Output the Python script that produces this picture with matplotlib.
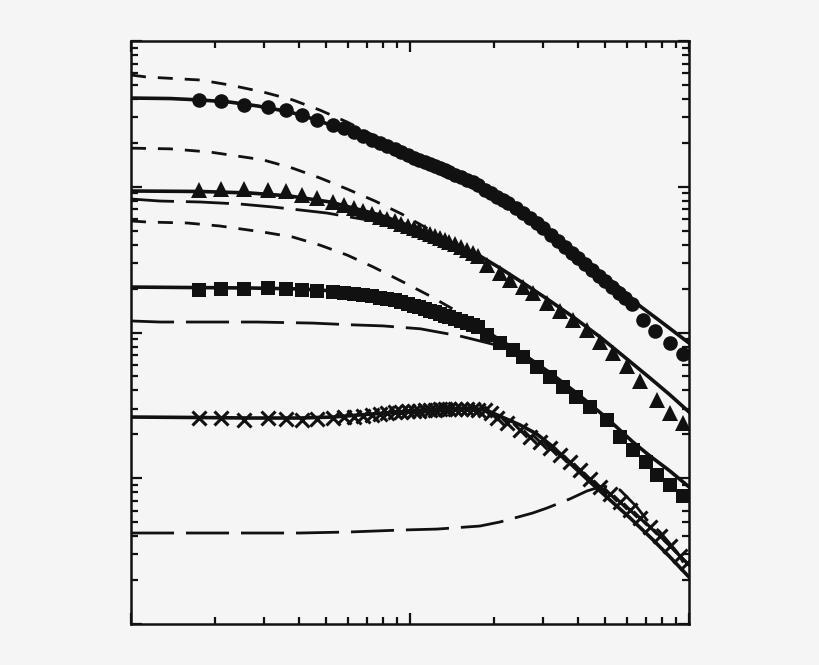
import matplotlib
matplotlib.use("Agg")
from matplotlib import pyplot as plt

bg = "#f5f5f5"

# marker positions (shared low-x part)
x_pts = [1.75, 2.1, 2.55, 3.1, 3.6, 4.1, 4.65, 5.3, 5.8, 6.3, 6.8, 7.3, 7.8, 8.3,
         8.8, 9.3, 9.8, 10.3, 10.8, 11.3, 11.8, 12.3, 12.8, 13.3, 13.8, 14.5,
         15.2, 16, 16.8, 17.6]

# circles
circ_x = x_pts + [18.5, 19.5, 20.5, 21.5, 22.5, 24, 25.5, 27, 28.5, 30, 32, 34,
                  36, 38, 40, 42.5, 45, 47.5, 50, 53, 56, 59, 62.5, 68.5, 75.5,
                  85.5, 95]
circ_y = [39.4, 38.8, 36.5, 35.2, 33.6, 31.1, 28.7, 26.5, 25.3, 23.7, 22.3, 20.9,
          20.0, 19.0, 18.2, 17.3, 16.5, 15.8, 15.3, 14.8, 14.3, 13.9, 13.4, 13.0,
          12.6, 12.0, 11.7, 11.1, 10.8, 10.3,
          9.51, 9.06, 8.51, 8.11, 7.74, 7.15, 6.60, 6.11, 5.64, 5.21, 4.67, 4.24,
          3.86, 3.51, 3.25, 2.95, 2.69, 2.44, 2.26, 2.05, 1.87, 1.72, 1.57, 1.22,
          1.02, 0.847, 0.712]

# triangles
tri_x = x_pts + [18.9, 21.0, 22.8, 25.4, 27.6, 31.0, 34.5, 38.4, 43.1, 48.0, 53.4,
                 59.9, 66.7, 76.8, 85.5, 95.1]
tri_y = [9.50, 9.65, 9.65, 9.50, 9.35, 8.78, 8.37, 7.86, 7.50, 7.15, 6.82, 6.50,
         6.20, 6.01, 5.82, 5.55, 5.38, 5.21, 5.05, 4.89, 4.74, 4.60, 4.45, 4.31,
         4.18, 4.05, 3.86, 3.68, 3.51, 3.35,
         2.91, 2.56, 2.29, 2.05, 1.87, 1.59, 1.40, 1.22, 1.04, 0.861, 0.724,
         0.589, 0.465, 0.344, 0.280, 0.239]

# squares
sq_x = x_pts + [18.9, 21.0, 23.4, 25.4, 28.5, 31.8, 35.4, 39.5, 44.2, 50.7, 56.6,
                63.0, 70, 76.8, 85.5, 95.1]
sq_y = [1.96, 1.99, 1.99, 2.02, 1.99, 1.96, 1.93, 1.90, 1.87, 1.84, 1.81, 1.78,
        1.72, 1.70, 1.67, 1.62, 1.57, 1.52, 1.50, 1.45, 1.40, 1.38, 1.34, 1.30,
        1.28, 1.24, 1.20, 1.16, 1.13, 1.09,
        0.962, 0.847, 0.759, 0.679, 0.580, 0.495, 0.423, 0.361, 0.308, 0.251,
        0.192, 0.156, 0.129, 0.105, 0.0899, 0.0756]

# crosses
cr_x = x_pts + [18.5, 19.5, 20.5, 22.3, 24.8, 26.9, 29.2, 31.8, 34.5, 37.4, 40.6,
                44.2, 48.0, 52.1, 56.6, 61.5, 66.7, 72.5, 78.7, 85.5, 92.9, 98.4]
cr_y = [0.259, 0.259, 0.251, 0.259, 0.255, 0.251, 0.255, 0.259, 0.263, 0.263,
        0.267, 0.272, 0.276, 0.280, 0.285, 0.285, 0.289, 0.289, 0.289, 0.294,
        0.294, 0.294, 0.299, 0.299, 0.299, 0.299, 0.299, 0.299, 0.299, 0.294,
        0.294, 0.280, 0.259, 0.239, 0.214, 0.192, 0.177, 0.161, 0.144, 0.129,
        0.114, 0.0989, 0.0871, 0.0780, 0.0687, 0.0606, 0.0534, 0.0463, 0.0402,
        0.0343, 0.0293, 0.0262]

# fit curves (solid)
fit1_x = [1, 1.38, 1.77, 2.26, 2.85, 3.71, 4.75, 6.09, 7.8, 10, 12.8, 17.4, 21.0,
          24.8, 29.2, 34.5, 40.6, 48.0, 56.6, 66.7, 78.7, 100]
fit1_y = [40.6, 40.3, 39.4, 38.1, 35.8, 32.6, 28.3, 23.4, 20.0, 16.0, 13.4, 10.3,
          8.37, 6.93, 5.55, 4.38, 3.40, 2.60, 2.02, 1.52, 1.20, 0.847]
fit2_x = [1, 1.77, 2.67, 3.71, 5.17, 7.8, 10, 12.8, 17.8, 21.0, 25.4, 31.0, 38.4,
          48.0, 59.9, 72.5, 85.5, 100]
fit2_y = [9.35, 9.28, 9.06, 8.64, 7.86, 6.40, 5.38, 4.45, 3.35, 2.77, 2.19, 1.70,
          1.28, 0.932, 0.658, 0.487, 0.373, 0.285]
fit3_x = [1, 2.67, 4.03, 5.3, 7.8, 10.9, 13.9, 17.8, 21.0, 25.4, 31.8, 39.5, 50.7,
          63.0, 72.5, 85.5, 100]
fit3_y = [2.05, 2.02, 1.99, 1.93, 1.72, 1.50, 1.30, 1.09, 0.889, 0.712, 0.528,
          0.385, 0.259, 0.177, 0.142, 0.112, 0.0872]
fit4_x = [1, 1.77, 2.67, 4.03, 5.3, 6.62, 9.21, 12.8, 16.4, 18.6, 21.0, 24.8, 28.5,
          32.6, 37.4, 44.2, 52.1, 61.5, 74.4, 85.5, 100]
fit4_y = [0.263, 0.261, 0.259, 0.259, 0.263, 0.272, 0.285, 0.299, 0.303, 0.294,
          0.267, 0.232, 0.201, 0.164, 0.127, 0.0942, 0.0709, 0.0534, 0.0377,
          0.0288, 0.0210]

# short dashed curves
sd1_x = [1, 1.14, 1.77, 2.26, 2.97, 3.80, 4.75, 5.95, 7.48, 9.21, 10]
sd1_y = [58.4, 56.6, 54.0, 49.9, 44.7, 39.4, 33.6, 27.8, 22.3, 17.9, 16.0]
sd2_x = [1, 1.38, 1.92, 2.97, 3.80, 4.75, 5.95, 7.48, 9.34, 11.8, 13.9]
sd2_y = [18.4, 18.2, 17.3, 15.3, 13.4, 11.5, 9.65, 7.99, 6.50, 5.05, 4.18]
sd3_x = [1, 1.14, 1.59, 2.08, 2.97, 3.80, 4.75, 5.95, 7.37, 9.45, 11.8, 14.7, 17.8]
sd3_y = [5.82, 5.73, 5.64, 5.38, 4.89, 4.52, 3.98, 3.40, 2.82, 2.22, 1.78, 1.40,
         1.11]

# long dashed curves
ld2_x = [1, 1.27, 1.77, 2.46, 3.23, 4.03, 5.04, 6.09, 7.8, 10, 12.8]
ld2_y = [8.24, 7.98, 7.86, 7.61, 7.26, 6.93, 6.60, 6.20, 5.73, 5.13, 4.31]
ld3_x = [1, 1.27, 1.81, 2.83, 4.49, 6.09, 7.99, 10.9, 12.5, 15.1, 17.8, 21.0]
ld3_y = [1.20, 1.18, 1.18, 1.18, 1.16, 1.13, 1.11, 1.06, 1.01, 0.946, 0.875, 0.808]
ld4_x = [1, 1.77, 2.67, 4.03, 6.09, 9.21, 12.5, 17.8, 21.0, 27.5, 31.0, 37.4, 43.1,
         49.2, 56.6, 65.0, 70.7, 78.7, 90.6, 100]
ld4_y = [0.0421, 0.0421, 0.0421, 0.0421, 0.0428, 0.0441, 0.0448, 0.0470, 0.0501,
         0.0577, 0.0625, 0.0721, 0.0818, 0.0885, 0.0831, 0.0635, 0.0517, 0.0428,
         0.0312, 0.0227]

fig = plt.figure(figsize=(8.2, 6.65), dpi=100, facecolor=bg)
ax = fig.add_axes([131 / 820, 41 / 665, 558 / 820, 583 / 665])
ax.set_facecolor(bg)

short = (0, (5.4, 4.3))
long_ = (0, (15.5, 4.3))

for xs, ys in [(sd1_x, sd1_y), (sd2_x, sd2_y), (sd3_x, sd3_y)]:
    ax.plot(xs, ys, color="#111111", lw=2, linestyle=short)
for xs, ys in [(ld2_x, ld2_y), (ld3_x, ld3_y), (ld4_x, ld4_y)]:
    ax.plot(xs, ys, color="#111111", lw=2, linestyle=long_)

for xs, ys in [(fit1_x, fit1_y), (fit2_x, fit2_y), (fit3_x, fit3_y), (fit4_x, fit4_y)]:
    ax.plot(xs, ys, color="#111111", lw=2.6)

ax.plot(circ_x, circ_y, "o", color="#111111", ms=10.5, mew=0)
ax.plot(tri_x, tri_y, "^", color="#111111", ms=11.5, mew=0)
ax.plot(sq_x, sq_y, "s", color="#111111", ms=9.5, mew=0)
ax.plot(cr_x, cr_y, "x", color="#111111", ms=10, mew=2.2)

ax.set_xscale("log")
ax.set_yscale("log")
ax.set_xlim(1, 100)
ax.set_ylim(0.01, 100)

ax.tick_params(which="both", direction="in", top=True, right=True,
               labelbottom=False, labelleft=False, width=1.6, color="#111111")
ax.tick_params(which="major", length=8)
ax.tick_params(which="minor", length=5)
for s in ax.spines.values():
    s.set_linewidth(1.8)
    s.set_color("#111111")

fig.savefig("out.png", dpi=100, facecolor=bg)
